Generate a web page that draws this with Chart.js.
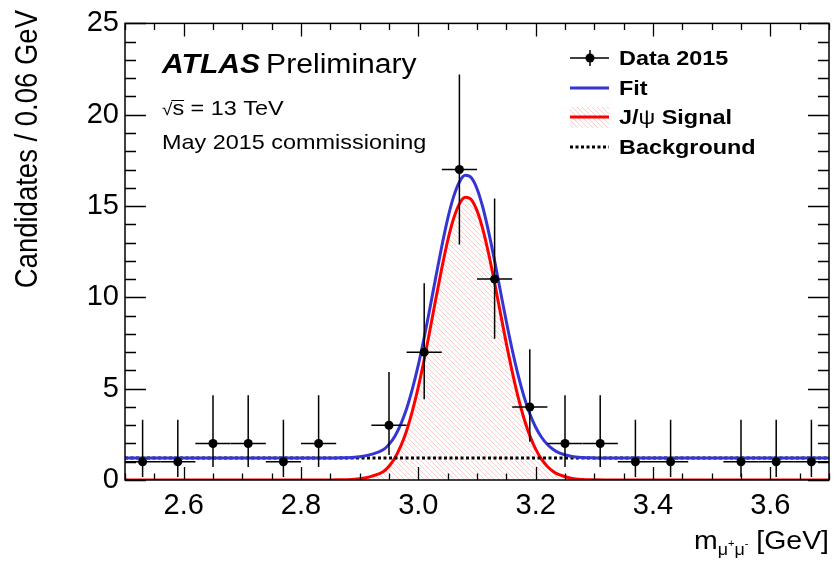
<!DOCTYPE html>
<html><head><meta charset="utf-8">
<script src="https://cdn.jsdelivr.net/npm/chart.js@4.4.1/dist/chart.umd.min.js"></script>
<style>html,body{margin:0;padding:0;background:#fff;}#wrap{width:834px;height:561px;position:relative;}</style>
</head><body><div id="wrap"><canvas id="c" width="834" height="561"></canvas></div>
<script>
// ---- data ----
const binCenters = [2.53,2.59,2.65,2.71,2.77,2.83,2.95,3.01,3.07,3.13,3.19,3.25,3.31,3.37,3.43,3.55,3.61,3.67];
const counts     = [1,1,2,2,1,2,3,7,17,11,4,2,2,1,1,1,1,1];
const errLow     = [0.17,0.17,0.71,0.71,0.17,0.71,1.37,4.42,12.9,7.73,2.09,0.71,0.71,0.17,0.17,0.17,0.17,0.17];
const errHigh    = [3.30,3.30,4.64,4.64,3.30,4.64,5.92,10.77,22.2,15.41,7.16,4.64,4.64,3.30,3.30,3.30,3.30,3.30];
const binHalfWidth = 0.03;
const curveX   = [2.50,2.84,2.86,2.88,2.90,2.92,2.94,2.95,2.96,2.97,2.98,2.99,3.00,3.01,3.02,3.03,3.04,3.05,3.06,3.07,3.08,3.09,3.10,3.11,3.12,3.13,3.14,3.15,3.16,3.17,3.18,3.19,3.20,3.21,3.22,3.23,3.24,3.26,3.28,3.30,3.34,3.70];
const signalY  = [0,0,0.01,0.02,0.07,0.2,0.45,0.75,1.2,1.85,2.7,3.8,5.1,6.6,8.25,9.95,11.6,13.1,14.3,15.12,15.48,15.36,14.75,13.72,12.36,10.8,9.13,7.48,5.93,4.55,3.38,2.43,1.69,1.14,0.74,0.47,0.29,0.10,0.03,0.01,0,0];
const fitY     = [1.2,1.2,1.21,1.22,1.27,1.4,1.65,1.95,2.4,3.05,3.9,5.0,6.3,7.8,9.45,11.15,12.8,14.3,15.5,16.32,16.68,16.56,15.95,14.92,13.56,12.0,10.33,8.68,7.13,5.75,4.58,3.63,2.89,2.34,1.94,1.67,1.49,1.3,1.23,1.21,1.2,1.2];
const bkgX     = [2.5,3.7];
const bkgY     = [1.2,1.2];
const xTickValues = [2.6,2.8,3.0,3.2,3.4,3.6];
const yTickValues = [0,5,10,15,20,25];
const legendLabels = ['Data 2015','Fit','J/ψ Signal','Background'];

const FF = '"Liberation Sans", Arial, Helvetica, sans-serif';
const SX = 1.115;
const BLUE = '#3535d4', RED = '#ff0000';

function makeHatch(){
  const p = document.createElement('canvas'); p.width = 5; p.height = 5;
  const g = p.getContext('2d');
  g.strokeStyle = 'rgba(255,90,90,0.32)'; g.lineWidth = 1;
  g.beginPath();
  g.moveTo(0,0); g.lineTo(5,5);
  g.moveTo(-1,4); g.lineTo(1,6);
  g.moveTo(4,-1); g.lineTo(6,1);
  g.stroke();
  return document.getElementById('c').getContext('2d').createPattern(p,'repeat');
}
const hatch = makeHatch();

function stext(ctx, str, x, y, font, align){
  ctx.save(); ctx.font = font; ctx.translate(x,y); ctx.scale(SX,1);
  ctx.textAlign = align || 'left'; ctx.textBaseline = 'alphabetic';
  ctx.fillStyle = '#000'; ctx.fillText(str,0,0); ctx.restore();
}
function swidth(ctx, str, font){
  ctx.save(); ctx.font = font; const w = ctx.measureText(str).width * SX; ctx.restore(); return w;
}

const pts = binCenters.map((x,i)=>({x:x, y:counts[i]}));
const sig = curveX.map((x,i)=>({x:x, y:signalY[i]}));
const fit = curveX.map((x,i)=>({x:x, y:fitY[i]}));
const bkg = bkgX.map((x,i)=>({x:x, y:bkgY[i]}));

const decor = {
  id:'decor',
  afterDatasetsDraw(chart){
    const ctx = chart.ctx, xs = chart.scales.x, ys = chart.scales.y;
    ctx.save();
    ctx.strokeStyle = '#000'; ctx.lineWidth = 1.5;
    for (let i=0;i<binCenters.length;i++){
      const px = xs.getPixelForValue(binCenters[i]);
      const py = ys.getPixelForValue(counts[i]);
      ctx.beginPath();
      ctx.moveTo(px, ys.getPixelForValue(errLow[i]));
      ctx.lineTo(px, ys.getPixelForValue(errHigh[i]));
      ctx.moveTo(xs.getPixelForValue(binCenters[i]-binHalfWidth), py);
      ctx.lineTo(xs.getPixelForValue(binCenters[i]+binHalfWidth), py);
      ctx.stroke();
    }
    ctx.restore();
  },
  afterDraw(chart){
    const ctx = chart.ctx, a = chart.chartArea, xs = chart.scales.x, ys = chart.scales.y;
    ctx.save();
    // frame
    ctx.strokeStyle = '#000'; ctx.lineWidth = 1.5;
    ctx.strokeRect(a.left, a.top, a.right-a.left, a.bottom-a.top);
    // ticks inside frame
    ctx.lineWidth = 1.3;
    ctx.beginPath();
    for (let k=0;k<=24;k++){
      const v = +(2.5 + k*0.05).toFixed(2);
      const major = xTickValues.some(t=>Math.abs(t-v)<1e-6);
      const L = major ? 13 : 6.5;
      const px = Math.round(xs.getPixelForValue(v))+0.5;
      ctx.moveTo(px, a.bottom); ctx.lineTo(px, a.bottom-L);
      ctx.moveTo(px, a.top); ctx.lineTo(px, a.top+L);
    }
    for (let v=0; v<=25; v++){
      const major = v%5===0;
      const L = major ? 21 : 11;
      const py = Math.round(ys.getPixelForValue(v))+0.5;
      ctx.moveTo(a.left, py); ctx.lineTo(a.left+L, py);
      ctx.moveTo(a.right, py); ctx.lineTo(a.right-L, py);
    }
    ctx.stroke();

    // ATLAS label
    const fA = 'italic bold 27px '+FF, fP = '27px '+FF;
    stext(ctx,'ATLAS',162,73,fA);
    stext(ctx,'Preliminary',162+swidth(ctx,'ATLAS',fA)+6,73,fP);
    // sqrt(s) = 13 TeV
    const f21 = '21px '+FF;
    const fr = '17px '+FF;
    stext(ctx,'√',162,115,fr);
    const wr = swidth(ctx,'√',fr);
    stext(ctx,'s = 13 TeV',162+wr,115,f21);
    const ws = swidth(ctx,'s',f21);
    ctx.strokeStyle='#000'; ctx.lineWidth=1;
    ctx.beginPath(); ctx.moveTo(162+wr-1,100.5); ctx.lineTo(162+wr+ws,100.5); ctx.stroke();
    stext(ctx,'May 2015 commissioning',162,149,f21);

    // legend
    const fL = 'bold 21px '+FF, fLr = '21px '+FF;
    const lx0 = 570, lx1 = 609, tx = 619;
    const rows = [58,88,117,147];
    ctx.strokeStyle='#000'; ctx.lineWidth=1.5;
    ctx.beginPath(); ctx.moveTo(lx0,rows[0]); ctx.lineTo(lx1,rows[0]);
    ctx.moveTo(590,rows[0]-8); ctx.lineTo(590,rows[0]+8); ctx.stroke();
    ctx.fillStyle='#000'; ctx.beginPath(); ctx.arc(590,rows[0],4.5,0,Math.PI*2); ctx.fill();
    ctx.strokeStyle=BLUE; ctx.lineWidth=3;
    ctx.beginPath(); ctx.moveTo(lx0,rows[1]); ctx.lineTo(lx1,rows[1]); ctx.stroke();
    ctx.fillStyle=hatch; ctx.fillRect(lx0,rows[2]-10,lx1-lx0,21);
    ctx.strokeStyle=RED; ctx.lineWidth=3;
    ctx.beginPath(); ctx.moveTo(lx0,rows[2]); ctx.lineTo(lx1,rows[2]); ctx.stroke();
    ctx.strokeStyle='#000'; ctx.lineWidth=3; ctx.setLineDash([3,2.5]);
    ctx.beginPath(); ctx.moveTo(lx0,rows[3]); ctx.lineTo(lx1,rows[3]); ctx.stroke();
    ctx.setLineDash([]);
    stext(ctx,legendLabels[0],tx,rows[0]+7,fL);
    stext(ctx,legendLabels[1],tx,rows[1]+7,fL);
    let cx = tx;
    stext(ctx,'J/',cx,rows[2]+7,fL); cx += swidth(ctx,'J/',fL);
    stext(ctx,'ψ',cx,rows[2]+7,fLr); cx += swidth(ctx,'ψ',fLr);
    stext(ctx,' Signal',cx,rows[2]+7,fL);
    stext(ctx,legendLabels[3],tx,rows[3]+7,fL);

    // y axis title
    ctx.save();
    ctx.font = '27.5px '+FF; ctx.fillStyle='#000';
    ctx.translate(37,10); ctx.scale(SX,1); ctx.rotate(-Math.PI/2);
    ctx.textAlign='right'; ctx.textBaseline='alphabetic';
    ctx.fillText('Candidates / 0.06 GeV',0,0);
    ctx.restore();

    // x axis title  m_{mu+mu-} [GeV], right aligned
    const fM = '25.5px '+FF, fS = '16px '+FF, fT = '10px '+FF;
    const parts = [
      ['m',fM,0],['μ',fS,6],['+',fT,-2],['μ',fS,6],['-',fT,-2],[' [GeV]',fM,0]
    ];
    let total = 0; parts.forEach(p=>total+=swidth(ctx,p[0],p[1]));
    let x = 829 - total; const base = 549;
    parts.forEach(p=>{ stext(ctx,p[0],x,base+p[2],p[1]); x += swidth(ctx,p[0],p[1]); });
    ctx.restore();
  }
};

new Chart(document.getElementById('c'), {
  data:{
    datasets:[
      {type:'scatter', label:legendLabels[0], data:pts, pointRadius:4.5, pointHoverRadius:4.5, pointBackgroundColor:'#000', pointBorderColor:'#000', pointBorderWidth:0},
      {type:'line', label:legendLabels[1], data:fit, borderColor:BLUE, borderWidth:3, pointRadius:0, fill:false, cubicInterpolationMode:'monotone'},
      {type:'line', label:legendLabels[3], data:bkg, borderColor:'#000', borderWidth:3, borderDash:[3,2.5], pointRadius:0, fill:false},
      {type:'line', label:legendLabels[2], data:sig, borderColor:RED, borderWidth:3, pointRadius:0, fill:'origin', backgroundColor:hatch, cubicInterpolationMode:'monotone'}
    ]
  },
  options:{
    responsive:false, animation:false,
    layout:{padding:{top:20,right:5,left:0,bottom:0}},
    plugins:{legend:{display:false}, tooltip:{enabled:false}},
    scales:{
      x:{type:'linear', min:2.5, max:3.7,
         afterBuildTicks:s=>{ s.ticks = xTickValues.map(v=>({value:v})); },
         afterFit:s=>{ s.height = 81; },
         grid:{display:false, drawTicks:false}, border:{display:false},
         ticks:{autoSkip:false, maxRotation:0, padding:9, color:'#000', font:{family:FF, size:29}, callback:v=>Number(v).toFixed(1)}},
      y:{type:'linear', min:0, max:25,
         afterBuildTicks:s=>{ s.ticks = yTickValues.map(v=>({value:v})); },
         afterFit:s=>{ s.width = 125; },
         grid:{display:false, drawTicks:false}, border:{display:false},
         ticks:{padding:6, color:'#000', font:{family:FF, size:29}, callback:v=>String(v)}}
    }
  },
  plugins:[decor]
});
</script></body></html>
